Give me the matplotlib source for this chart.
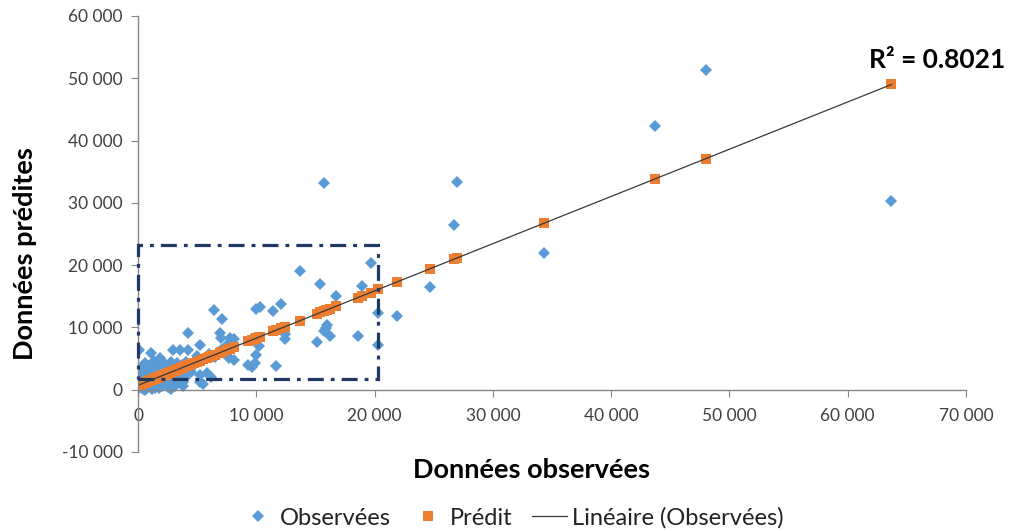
import numpy as np
import matplotlib
matplotlib.use('Agg')
import matplotlib.pyplot as plt
from matplotlib.patches import Rectangle
from matplotlib.lines import Line2D
from matplotlib.ticker import FuncFormatter, MultipleLocator

plt.rcParams['font.family'] = ['Lato', 'DejaVu Sans']

# observed x, predicted-by-model y (blue), linear prediction y (orange)
OBS_X = [63700, 48000, 43700, 34300, 27000, 26700, 24700, 21900, 20300, 20300,
         19700, 18900, 18600, 16700, 16200, 16000, 15900, 15700, 15700, 15400,
         15100, 13700, 12400, 12400, 12100, 11700, 11400, 10300, 10000, 10250,
         10000, 9900, 9600, 8100, 7800, 7100, 7000, 6900, 6400, 8100,
         7700, 6200, 5800, 5500, 5200, 5200, 5200, 4250, 4200, 4100,
         3800, 3800, 3550, 3550, 3000, 2800, 2700, 2100, 1900, 1800,
         1500, 1200, 1100, 600, 600, 50,
         100, 200, 300, 400, 500, 700, 800, 900, 1000, 1100,
         1200, 1300, 1400, 1500, 1600, 1700, 1800, 1900, 2000, 2100,
         2200, 2300, 2400, 2500, 2600, 2800, 2900, 3100, 3200, 3300,
         3400, 3600, 3700, 3900, 4000, 4300, 4500, 4700, 5000, 5500,
         6000, 6500, 7000, 7500, 0, 50, 150, 250, 350, 450,
         550, 650, 750, 850, 950, 1050, 1250, 1350, 1450, 1550,
         1650, 1750, 1850, 2050, 2150, 2250, 2450, 2550, 2650, 2750,
         2850, 3050, 3150, 9300]
OBS_Y = [30300, 51400, 42400, 22000, 33300, 26500, 16500, 11900, 12300, 7100,
         20400, 16700, 8600, 15000, 8600, 10400, 9900, 33200, 9500, 17000,
         7700, 19000, 8200, 9000, 13800, 3850, 12700, 13200, 13000, 7000,
         5600, 4300, 3700, 8200, 8300, 11400, 8300, 9100, 12800, 4800,
         5100, 2100, 2700, 900, 7200, 2400, 1300, 9100, 6400, 4500,
         1300, 600, 6400, 1600, 6300, 100, 300, 2700, 5100, 200,
         3700, 100, 5900, 4300, 0, 6300,
         200, 900, 1500, 2500, 3200, 1800, 2900, 1200, 3500, 400,
         2200, 3100, 1000, 2600, 1700, 4000, 800, 2400, 3300, 1400,
         2000, 4200, 900, 2800, 1900, 3600, 2300, 1100, 2900, 4300,
         2000, 3000, 3900, 2500, 1800, 3300, 2900, 4000, 5400, 4800,
         5800, 5200, 6300, 7200, 500, 1200, 2000, 3000, 3700, 100,
         1000, 2300, 3400, 500, 2700, 1500, 700, 4600, 300, 2000,
         3400, 1200, 2900, 600, 3800, 1100, 3100, 500, 2200, 4500,
         1500, 2700, 600, 4000]
PRED_Y = [49000, 37100, 33800, 26700, 21200, 21000, 19400, 17300, 16100, 16100,
          15600, 15000, 14800, 13400, 13000, 12800, 12750, 12600, 12600, 12400,
          12150, 11100, 10100, 10100, 9900, 9600, 9350, 8500, 8300, 8500,
          8300, 8200, 8000, 6850, 6600, 6100, 6000, 5930, 5550, 6850,
          6550, 5400, 5100, 4870, 4640, 4640, 4640, 3920, 3890, 3810,
          3580, 3580, 3390, 3390, 2980, 2820, 2750, 2290, 2140, 2070,
          1840, 1610, 1530, 1150, 1150, 740,
          780, 850, 930, 1000, 1080, 1230, 1310, 1380, 1460, 1530,
          1610, 1690, 1760, 1840, 1910, 1990, 2070, 2140, 2220, 2290,
          2370, 2440, 2520, 2600, 2670, 2820, 2900, 3050, 3130, 3200,
          3280, 3430, 3510, 3660, 3730, 3960, 4110, 4260, 4490, 4870,
          5250, 5630, 6010, 6390, 700, 740, 810, 890, 970, 1040,
          1120, 1190, 1270, 1340, 1420, 1500, 1650, 1720, 1800, 1880,
          1950, 2030, 2100, 2250, 2330, 2410, 2560, 2630, 2710, 2790,
          2860, 3010, 3090, 7750]
TREND_X = [0, 63700]
TREND_Y = [700, 49000]
R2_TEXT = 'R² = 0.8021'
ZOOM_BOX = (0, 1700, 20300, 23200)  # x0, y0, x1, y1

BLUE = '#5B9BD5'
ORANGE = '#ED7D31'
NAVY = '#1F3864'
GREY = '#868686'

fig = plt.figure(figsize=(10.11, 5.31), dpi=100)
ax = fig.add_axes([0.1365, 0.1488, 0.819, 0.8211])

ax.plot(OBS_X, OBS_Y, ls='none', marker='D', ms=6.5, color=BLUE, mew=0)
ax.plot(OBS_X, PRED_Y, ls='none', marker='s', ms=7, color=ORANGE, mew=0)
ax.plot(TREND_X, TREND_Y, color='#3a3a3a', lw=0.9)

x0, y0, x1, y1 = ZOOM_BOX
ax.add_patch(Rectangle((x0, y0), x1 - x0, y1 - y0, fill=False, edgecolor=NAVY,
                       lw=2.3, ls=(0, (5, 2.2, 1.2, 2.2)), zorder=5, clip_on=False))

ax.text(73300, 53000, R2_TEXT, ha='right', va='center',
        fontsize=19, fontweight='bold')

ax.set_xlim(0, 70000)
ax.set_ylim(-10000, 60000)
ax.xaxis.set_major_locator(MultipleLocator(10000))
ax.yaxis.set_major_locator(MultipleLocator(10000))
fmt = FuncFormatter(lambda v, p: f'{int(v):,}'.replace(',', ' '))
ax.xaxis.set_major_formatter(fmt)
ax.yaxis.set_major_formatter(fmt)

for s in ('top', 'right'):
    ax.spines[s].set_visible(False)
ax.spines['bottom'].set_position(('data', 0))
for s in ('bottom', 'left'):
    ax.spines[s].set_color(GREY)
    ax.spines[s].set_linewidth(1.0)
ax.tick_params(direction='out', length=5, color=GREY, labelsize=12.5,
               labelcolor='#404040')
ax.tick_params(axis='x', pad=8)
ax.tick_params(axis='y', pad=6)

fig.text(0.0247, 0.522, 'Données prédites', rotation=90, ha='center', va='center',
         fontsize=19.5, fontweight='bold')
fig.text(0.526, 0.115, 'Données observées', ha='center', va='center',
         fontsize=19.5, fontweight='bold')

handles = [Line2D([], [], ls='none', marker='D', ms=6, color=BLUE, mew=0),
           Line2D([], [], ls='none', marker='s', ms=6.5, color=ORANGE, mew=0),
           Line2D([], [], color='#3a3a3a', lw=0.9)]
fig.legend(handles, ['Observées', 'Prédit', 'Linéaire (Observées)'], ncol=3,
           loc='center', bbox_to_anchor=(0.506, 0.0245), frameon=False, fontsize=17,
           handlelength=1.5, handletextpad=0.2, columnspacing=0.8,
           labelcolor='#222222', borderpad=0, borderaxespad=0)

fig.savefig('out.png', dpi=100)
